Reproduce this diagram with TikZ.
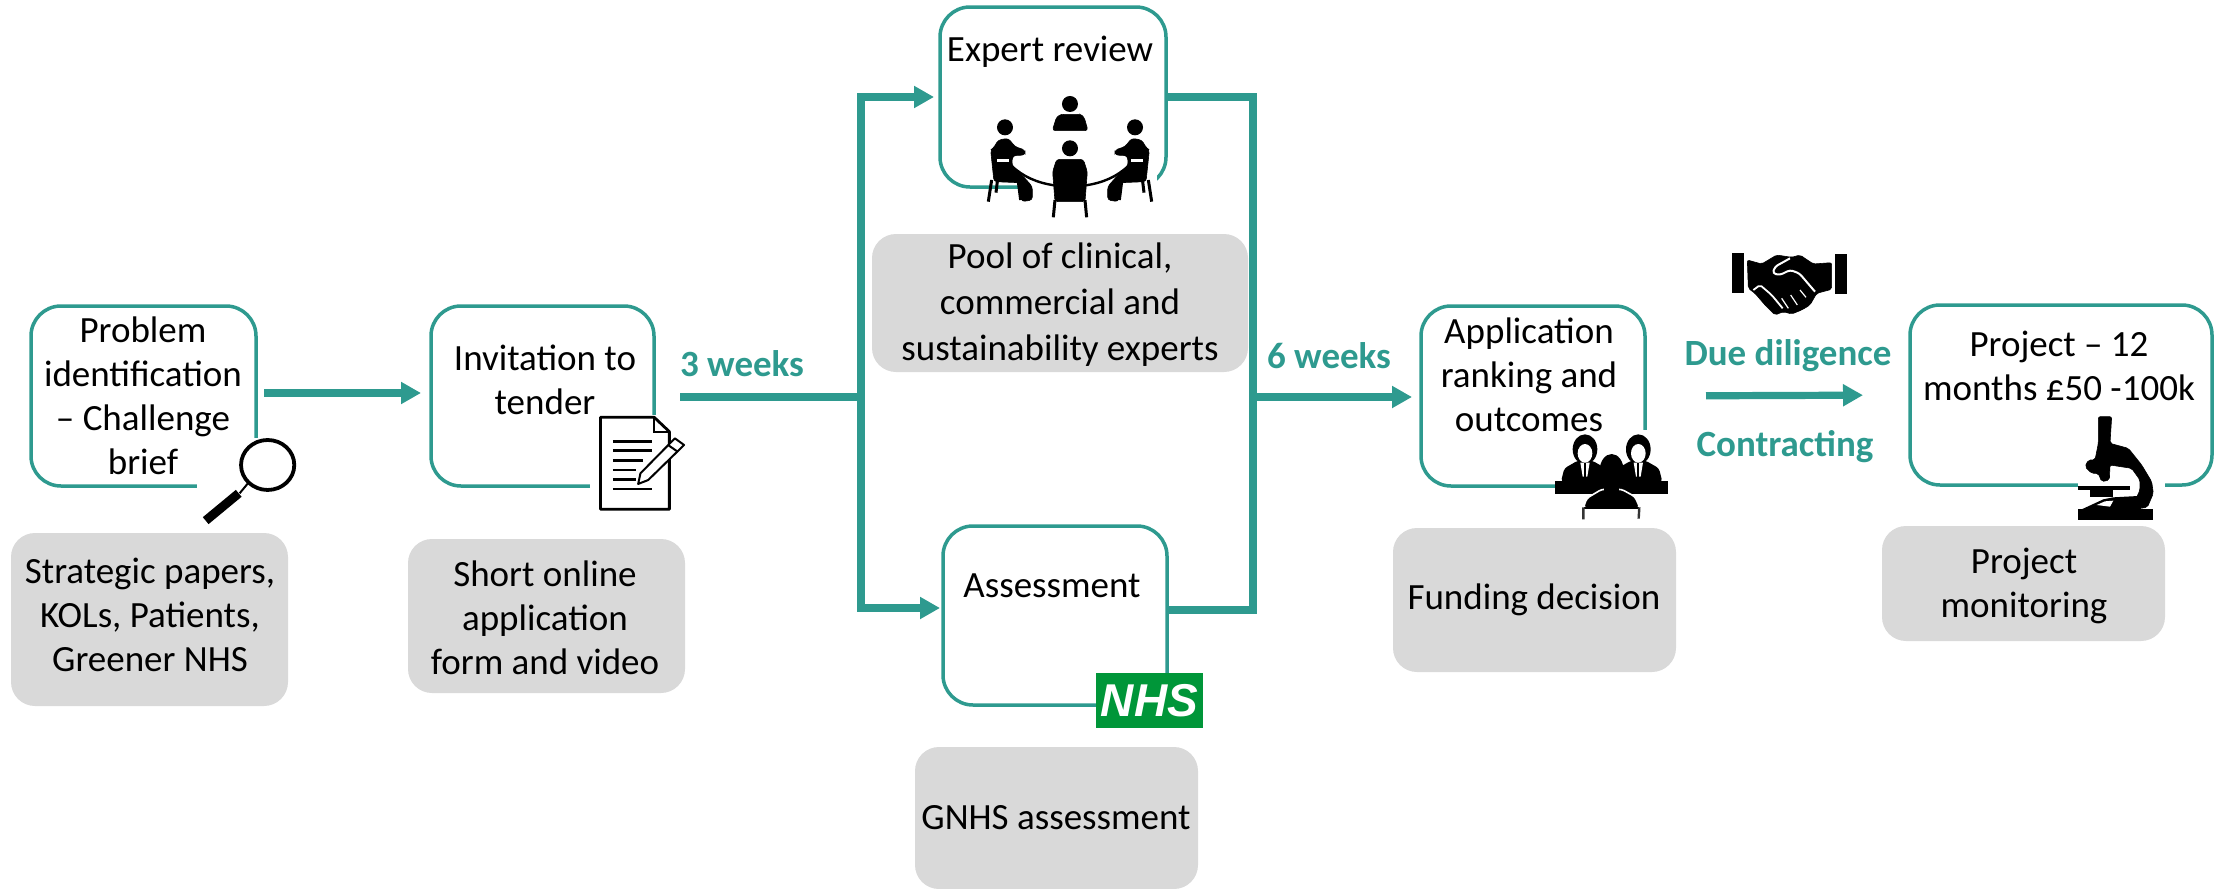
\documentclass[tikz,border=0pt]{standalone}
\usepackage{fontspec}
\setmainfont{Carlito}
\newfontfamily\nhsfont{Liberation Sans}
\usetikzlibrary{arrows.meta}
\definecolor{teal1}{HTML}{2E9A8F}
\definecolor{grey1}{HTML}{D9D9D9}
\definecolor{nhsgreen}{HTML}{009639}
\tikzset{
  box/.style={draw=teal1,line width=1.75pt,rounded corners=15pt,fill=white,inner sep=0pt,outer sep=0pt},
  greybox/.style={fill=grey1,rounded corners=12pt,inner sep=0pt,outer sep=0pt},
  txt/.style={align=center,inner sep=0pt,text=black,font=\fontsize{18.5}{22}\selectfont},
  lab/.style={inner sep=0pt,text=teal1,font=\fontsize{18.5}{22}\selectfont\bfseries},
  flow/.style={draw=teal1,line width=3.6pt},
  flowarrow/.style={flow,-{Triangle[length=10pt,width=10.5pt]}},
  patch/.style={fill=white,draw=none},
  ink/.style={fill=black,draw=black,line width=0.3pt,rounded corners=1pt},
}
\newcommand{\seatperson}{%
  \fill[black] (315,382) circle (24);
  \fill[ink,rounded corners=1.5pt] (280,445)--(295,420)--(325,415)--(345,440)--(375,450)--(375,465)--(338,467)--(335,495)--(375,535)--(397,560)--(397,600)--(365,605)--(358,548)--(282,545)--(272,450)--cycle;
  \draw[black,line width=1.5pt] (275,540)--(265,605) (292,545)--(288,578) (355,545)--(362,600);
  \fill[white] (292,476) rectangle (328,486);
  \draw[black,line width=1.2pt] (335,498) .. controls (370,530) and (410,548) .. (462,556);
}
\begin{document}
\begin{tikzpicture}[x=0.5pt,y=-0.5pt]
\useasboundingbox (0,0) rectangle (2224,889);
% grey boxes
\node[greybox,minimum width=138.5pt,minimum height=86.5pt] (gstrategic) at (149.5,619.5) {};
\node[greybox,minimum width=138.5pt,minimum height=77pt] (gshort) at (546.5,616) {};
\node[greybox,minimum width=188pt,minimum height=69pt] (gpool) at (1060,303) {};
\node[greybox,minimum width=141.5pt,minimum height=71pt] (ggnhs) at (1056.5,818) {};
\node[greybox,minimum width=141.5pt,minimum height=72pt] (gfunding) at (1534.5,600) {};
\node[greybox,minimum width=141.5pt,minimum height=57.5pt] (gmonitor) at (2023.5,583.5) {};
% boxes
\node[box,minimum width=112.5pt,minimum height=90pt] (problem) at (143.5,396) {};
\node[box,minimum width=111.5pt,minimum height=90pt] (invite) at (542.5,396) {};
\node[box,minimum width=113pt,minimum height=90pt] (expert) at (1053,97) {};
\node[box,minimum width=112pt,minimum height=89.5pt] (assess) at (1055,615.5) {};
\node[box,minimum width=112pt,minimum height=90pt] (appl) at (1533,396) {};
\node[box,minimum width=151pt,minimum height=90pt] (project) at (2061,395) {};
% connectors
\coordinate (j1) at (861,397);
\coordinate (j2) at (1253,397);
\coordinate (assessin) at (943,608);
\coordinate (assessout) at (1167,610);
\draw[flowarrow,shorten <=4pt,shorten >=5pt] ([yshift=1.5pt]problem.east) -- ([yshift=1.5pt]invite.west);
\draw[flow,shorten <=13pt] (invite.east |- j1) -- (j1);
\draw[flowarrow,shorten >=3pt] (j1) |- (expert.west);
\draw[flowarrow,shorten >=1.5pt] (j1) |- (assessin);
\draw[flow] (expert.east) -| (j2);
\draw[flow] (assessout) -| (j2);
\draw[flowarrow,shorten >=4.5pt] (j2) -- (appl.west |- j2);
\draw[flowarrow,shorten <=30.5pt,shorten >=23.5pt] (appl.east) -- (project.west);
% magnifier
\begin{scope}[shift={(0,290)},xscale=0.4591,yscale=0.3333]
  \fill[patch] (430,445) rectangle (650,720);
  \draw[black,line width=1.9pt] (583,525) ellipse (58 and 75);
  \draw[black,line width=1pt] (540,580)--(522,610);
  \draw[black,line width=4.5pt] (520,610)--(448,692);
\end{scope}
% document
\begin{scope}[shift={(0,290)},xscale=0.4591,yscale=0.3333]
  \fill[patch] (1285,375) rectangle (1500,670);
  \draw[black,line width=1.4pt,fill=white,line join=round] (1308,382)--(1425,382)--(1458,425)--(1458,658)--(1308,658)--cycle;
  \draw[black,line width=1pt] (1425,382)--(1425,425)--(1458,425);
  \foreach \v/\e in {455/1420,482/1420,512/1400,540/1385,568/1385,597/1420}
    \draw[black,line width=1.2pt] (1335,\v)--(\e,\v);
  \draw[black,line width=1pt,fill=white,line join=round] (1470,445)--(1490,465)--(1412,570)--(1390,582)--(1395,550)--cycle;
  \draw[black,line width=1pt] (1455,465)--(1476,485);
\end{scope}
% expert people
\begin{scope}[shift={(900,0)},scale=0.3333]
  \fill[patch] (360,480) rectangle (770,660);
  \fill[black] (510,312) circle (24);
  \fill[ink,rounded corners=1.5pt] (457,392)--(470,350)--(485,343)--(540,343)--(552,350)--(564,392)--cycle;
  \seatperson
\end{scope}
\begin{scope}[shift={(1240,0)},xscale=-0.3333,yscale=0.3333]
  \seatperson
\end{scope}
\begin{scope}[shift={(900,0)},scale=0.3333]
  \fill[black] (510,445) circle (24);
  \fill[ink,rounded corners=1.5pt] (470,478)--(550,478)--(562,515)--(555,605)--(465,605)--(458,515)--cycle;
  \draw[black,line width=1.5pt] (465,600)--(460,652) (555,600)--(560,652);
\end{scope}
% NHS
\node[fill=nhsgreen,minimum width=53.5pt,minimum height=27.5pt,inner sep=0pt,text=white,font=\nhsfont\fontsize{23}{23}\selectfont\bfseries\itshape] (nhs) at (1149.5,700.5) {NHS};
% panel people
\begin{scope}[shift={(1540,420)},scale=0.3333]
  \fill[patch] (45,30) rectangle (385,320);
  \foreach \u in {135,295}{
    \fill[black,rounded corners=1.5pt] (\u-72,185)--(\u-62,145)--(\u-22,122)--(\u+22,122)--(\u+62,145)--(\u+72,185)--cycle;
    \fill[black] (\u,88) ellipse (37 and 45);
    \fill[white] (\u,100) ellipse (22 and 28);
    \fill[white] (\u-14,128)--(\u+14,128)--(\u+7,170)--(\u-7,170)--cycle;
    \draw[black,line width=1pt] (\u,128)--(\u,170);
  }
  \fill[black] (45,182) rectangle (385,222);
  \fill[draw=white,line width=0.8pt,fill=black,rounded corners=1.5pt] (130,264)--(140,235)--(185,208)--(245,208)--(285,230)--(300,264)--cycle;
  \fill[black] (215,152) ellipse (36 and 50);
  \fill[black] (192,190) rectangle (238,215);
  \fill[black] (132,262) rectangle (298,268);
  \draw[black!80,line width=1.2pt] (130,262)--(130,298) (298,262)--(296,296);
\end{scope}
% handshake
\begin{scope}[shift={(1720,240)},scale=0.3333]
  \fill[black] (35,40) rectangle (72,158);
  \fill[black] (345,42) rectangle (380,162);
  \fill[ink] (82,60)--(125,72)--(170,45)--(215,52)--(240,45)--(280,72)--(335,68)--(335,148)--(290,160)--(270,195)--(245,210)--(215,222)--(190,215)--(165,225)--(135,195)--(105,160)--(85,145)--cycle;
  \draw[white,line width=1pt,rounded corners=1.5pt] (210,55)--(165,80)--(158,100)--(180,105)--(210,90)--(238,100)--(285,155);
  \draw[white,line width=.9pt,rounded corners=1pt] (100,150)--(120,135)--(155,165)--(188,205);
  \draw[white,line width=.6pt] (205,205)--(185,175) (232,195)--(212,165) (258,172)--(240,150);
\end{scope}
% microscope
\begin{scope}[shift={(2060,410)},scale=0.3333]
  \fill[patch] (55,5) rectangle (316,340);
  \fill[ink] (115,20)--(155,20)--(150,100)--(205,115)--(245,165)--(275,215)--(280,250)--(262,292)--(240,295)--(230,262)--(240,240)--(240,210)--(215,175)--(150,165)--(148,210)--(125,215)--(115,190)--(95,190)--(75,170)--(85,150)--(105,150)--(115,100)--cycle;
  \fill[black] (55,228) rectangle (210,241);
  \fill[black] (90,241) rectangle (160,262);
  \fill[black] (65,298)--(130,268)--(160,262)--(235,258)--(245,300)--cycle;
  \fill[white] (110,285)--(135,274)--(160,272)--(150,290)--cycle;
  \fill[black] (55,298) rectangle (280,330);
\end{scope}
% box text
\node[txt] (tproblem) at (143,396) {Problem\\identification\\– Challenge\\brief};
\node[txt] (tinvite) at (545,380) {Invitation to\\tender};
\node[txt] (texpert) at (1050,52) {Expert review};
\node[txt] (tassess) at (1052,586) {Assessment};
\node[txt] (tappl) at (1529,375) {Application\\ranking and\\outcomes};
\node[txt] (tproject) at (2059,366) {Project – 12\\months £50 -100k};
% grey text
\node[txt] (tstrategic) at (150,615) {Strategic papers,\\KOLs, Patients,\\Greener NHS};
\node[txt] (tshort) at (545,618) {Short online\\application\\form and video};
\node[txt,font=\fontsize{18.5}{23}\selectfont] (tpool) at (1060,305) {Pool of clinical,\\commercial and\\sustainability experts};
\node[txt] (tgnhs) at (1056,818) {GNHS assessment};
\node[txt] (tfunding) at (1534,600) {Funding decision};
\node[txt] (tmonitor) at (2024,586) {Project\\monitoring};
% labels
\node[lab] (l3) at (742,364) {3 weeks};
\node[lab] (l6) at (1329,356) {6 weeks};
\node[lab] (ldue) at (1788,356) {Due diligence};
\node[lab] (lcon) at (1785,447) {Contracting};
\end{tikzpicture}
\end{document}
